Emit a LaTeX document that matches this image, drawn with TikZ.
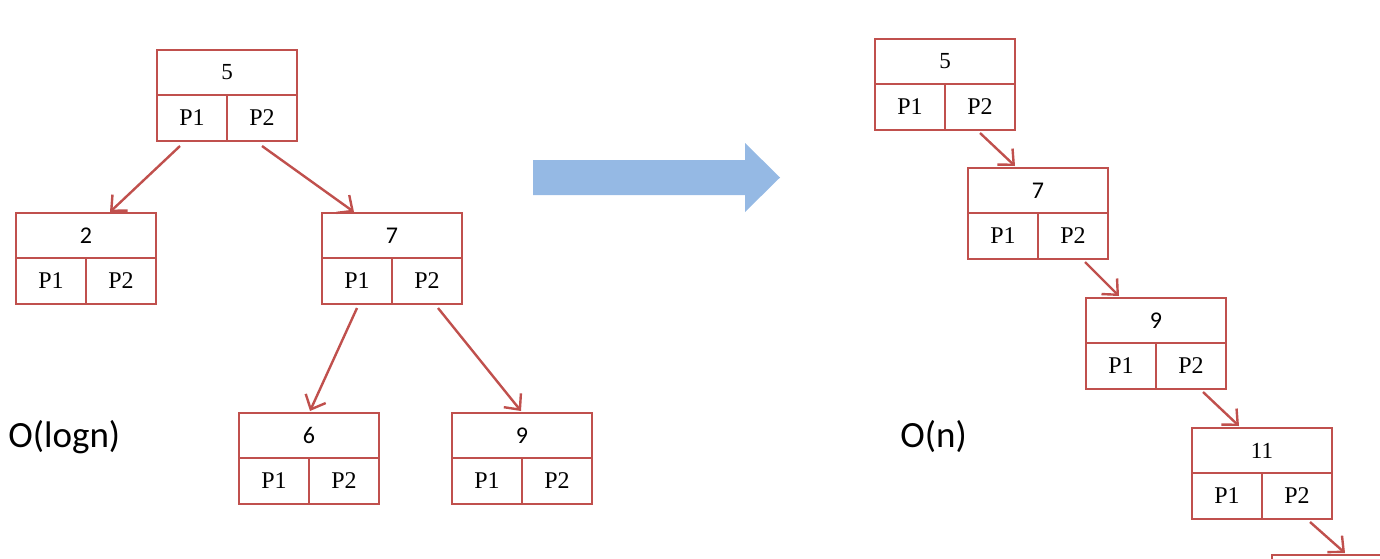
\documentclass[tikz,border=0pt]{standalone}
\usepackage{fontspec}
\setmainfont{Liberation Serif}
\newfontfamily\calfont{Carlito}
\usetikzlibrary{calc,arrows.meta}
\definecolor{nodered}{RGB}{192,80,77}
\definecolor{arrowblue}{RGB}{149,185,228}
\tikzset{
  topcell/.style={draw=nodered, line width=1.2pt, minimum width=70pt, minimum height=22.5pt, inner sep=0pt, outer sep=0pt, anchor=north west},
  botcell/.style={draw=nodered, line width=1.2pt, minimum width=35pt, minimum height=23pt, inner sep=0pt, outer sep=0pt, anchor=north west, font=\fontsize{12}{14}\selectfont},
  link/.style={draw=nodered, line width=1.2pt, -{Straight Barb[length=6pt,width=11pt,line width=1.2pt]}},
  serifnum/.style={font=\fontsize{11.5}{13}\selectfont},
  sansnum/.style={font=\calfont\fontsize{12}{14}\selectfont},
  bigO/.style={font=\calfont\fontsize{18.5}{21}\selectfont, anchor=west, inner sep=0pt}
}
\newcommand\bnode[5]{%
  \node[topcell,#5] (#1) at (#2,#3) {#4};
  \node[botcell] (#1a) at (#1.south west) {P1};
  \node[botcell] (#1b) at (#1a.north east) {P2};
}
\begin{document}
\begin{tikzpicture}[x=0.5pt,y=-0.5pt]
\useasboundingbox (0,0) rectangle (1380,558);
\clip (0,0) rectangle (1380,558);
% left tree
\bnode{L5}{157}{50}{5}{serifnum}
\bnode{L2}{16}{213}{2}{sansnum}
\bnode{L7}{322}{213}{7}{sansnum}
\bnode{L6}{239}{413}{6}{sansnum}
\bnode{L9}{452}{413}{9}{sansnum}
\draw[link] ($(L5a.south)+(-12,5)$) -- ($(L2.north)+(24,-1)$);
\draw[link] ($(L5b.south)+(0,5)$) -- ($(L7.north)+(-38,-1)$);
\draw[link] ($(L7a.south)+(0,4)$) -- ($(L6.north)+(1,-2)$);
\draw[link] ($(L7b.south)+(11,4)$) -- ($(L9.north)+(-1,-2)$);
\node[bigO] (ologn) at (8,437) {O(logn)};
% big arrow
\fill[arrowblue] (533,160) -- (745,160) -- (745,143) -- (780,177.5) -- (745,212) -- (745,195) -- (533,195) -- cycle;
% right chain
\bnode{R5}{875}{39}{5}{serifnum}
\bnode{R7}{968}{168}{7}{sansnum}
\bnode{R9}{1086}{298}{9}{sansnum}
\bnode{R11}{1192}{428}{11}{serifnum}
\node[topcell] (R13) at (1272,555) {};
\draw[link] ($(R5b.south)+(0,3)$) -- ($(R7.north)+(-23,-2)$);
\draw[link] ($(R7b.south)+(12,3)$) -- ($(R9.north)+(-37,-2)$);
\draw[link] ($(R9b.south)+(12,3)$) -- ($(R11.north)+(-23,-2)$);
\draw[link] ($(R11b.south)+(13,3)$) -- ($(R13.north)+(3,-2)$);
\node[bigO] (on) at (900,437) {O(n)};
\end{tikzpicture}
\end{document}
